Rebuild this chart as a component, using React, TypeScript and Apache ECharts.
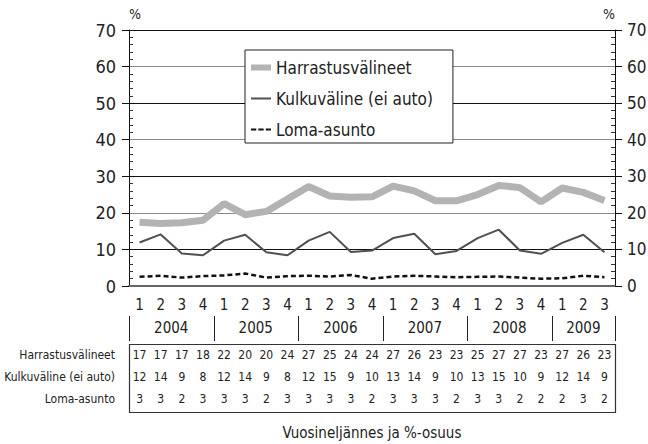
import React, { useEffect, useRef } from "react";
import * as echarts from "echarts";

const quarters = ["1","2","3","4","1","2","3","4","1","2","3","4","1","2","3","4","1","2","3","4","1","2","3"];
const years = ["2004", "2005", "2006", "2007", "2008", "2009"];
const yearQuarterCounts = [4, 4, 4, 4, 4, 3];

const seriesNames = ["Harrastusvälineet", "Kulkuväline (ei auto)", "Loma-asunto"];

const harrastus = [17.4, 17.1, 17.3, 18.0, 22.5, 19.5, 20.4, 23.8, 27.2, 24.6, 24.3, 24.4, 27.3, 26.0, 23.3, 23.3, 25.0, 27.5, 26.9, 23.0, 26.8, 25.6, 23.4];
const kulku = [11.9, 14.1, 8.9, 8.4, 12.4, 14.0, 9.2, 8.4, 12.4, 14.8, 9.3, 9.7, 13.1, 14.3, 8.7, 9.6, 13.1, 15.4, 9.7, 8.8, 11.8, 14.0, 9.2];
const loma = [2.5, 2.8, 2.3, 2.7, 2.9, 3.4, 2.3, 2.7, 2.8, 2.6, 3.0, 2.0, 2.6, 2.8, 2.6, 2.4, 2.5, 2.6, 2.3, 2.0, 2.1, 2.8, 2.4];

const tableHarrastus = ["17","17","17","18","22","20","20","24","27","25","24","24","27","26","23","23","25","27","27","23","27","26","23"];
const tableKulku = ["12","14","9","8","12","14","9","8","12","15","9","10","13","14","9","10","13","15","10","9","12","14","9"];
const tableLoma = ["3","3","2","3","3","3","2","3","3","3","3","2","3","3","3","2","3","3","2","2","2","3","2"];

const yTicks = { min: 0, max: 70, interval: 10 };

const FONT = "'Liberation Sans Narrow', 'DejaVu Sans Condensed', 'Roboto', sans-serif";

const GRID = { left: 129, right: 33, top: 30, bottom: 158 };
const ROW_OFFSETS = [69, 91, 113];

export default function App() {
  const ref = useRef<HTMLDivElement>(null);
  useEffect(() => {
    document.body.style.margin = "0";
    if (!ref.current) return;
    const chart = echarts.init(ref.current, null, { renderer: "svg" });

    const totalQ = yearQuarterCounts.reduce((a, b) => a + b, 0);
    const yearData: string[] = new Array(totalQ * 2 + 1).fill("");
    const boundaries: number[] = [0];
    let acc = 0;
    years.forEach((y, i) => {
      const c = yearQuarterCounts[i];
      yearData[acc * 2 + c] = y;
      acc += c;
      boundaries.push(acc);
    });

    const axisY = 444 - GRID.bottom;

    const rowAxis = (data: string[], offset: number) => ({
      type: "category",
      position: "bottom",
      gridIndex: 0,
      data,
      offset,
      boundaryGap: true,
      axisLine: { show: false },
      axisTick: { show: false },
      splitLine: { show: false },
      axisLabel: { interval: 0, margin: 0, verticalAlign: "middle", fontSize: 12, fontFamily: FONT, color: "#222" },
    });

    const baseY = {
      type: "value",
      min: yTicks.min,
      max: yTicks.max,
      interval: yTicks.interval,
    };

    const lineIcon = "path://M0,0H20V2H0Z";
    const thickIcon = "path://M0,0H20V6H0Z";
    const dashIcon = "path://M0,0H5V2H0Z M7,0H12V2H7Z M14,0H19V2H14Z";

    chart.setOption({
      animation: false,
      backgroundColor: "#fff",
      textStyle: { fontFamily: FONT },
      grid: { ...GRID, outerBoundsMode: "none", containLabel: false },
      legend: {
        orient: "vertical",
        left: 245,
        top: 50,
        backgroundColor: "#fff",
        borderColor: "#222",
        borderWidth: 1,
        padding: [9, 20, 5, 6],
        itemGap: 14,
        itemWidth: 20,
        itemHeight: 16,
        textStyle: { fontSize: 17, fontFamily: FONT, color: "#222" },
        data: [
          { name: seriesNames[0], icon: thickIcon },
          { name: seriesNames[1], icon: lineIcon },
          { name: seriesNames[2], icon: dashIcon },
        ],
      },
      xAxis: [
        {
          type: "category",
          data: quarters,
          boundaryGap: true,
          axisLine: { show: true, lineStyle: { color: "#666", width: 2 } },
          axisTick: { show: false },
          splitLine: { show: false },
          axisLabel: { interval: 0, margin: 11, fontSize: 15, fontFamily: FONT, color: "#222" },
        },
        {
          type: "category",
          position: "bottom",
          data: yearData,
          boundaryGap: false,
          offset: 30,
          axisLine: { show: false },
          splitLine: { show: false },
          axisTick: { show: false },
          axisLabel: { interval: 0, margin: 4, fontSize: 15, fontFamily: FONT, color: "#222" },
        },
        rowAxis(tableHarrastus, ROW_OFFSETS[0]),
        rowAxis(tableKulku, ROW_OFFSETS[1]),
        rowAxis(tableLoma, ROW_OFFSETS[2]),
      ],
      yAxis: [
        {
          ...baseY,
          position: "left",
          name: "%",
          nameLocation: "end",
          nameGap: 9,
          nameTextStyle: { fontSize: 14, fontFamily: FONT, color: "#222", align: "left" },
          axisLine: { show: true, lineStyle: { color: "#111", width: 1 } },
          axisTick: { show: true, length: 7, lineStyle: { color: "#111" } },
          axisLabel: { margin: 13, fontSize: 18, fontFamily: FONT, color: "#222" },
          splitLine: { show: true, lineStyle: { color: ["#8a8a8a", "#111"], width: 1.2 } },
        },
        {
          ...baseY,
          position: "left",
          axisLine: { show: false },
          axisTick: { show: false, inside: true },
          axisLabel: { show: false },
          minorTick: { show: true, splitNumber: 5, length: 4, lineStyle: { color: "#333" } },
          splitLine: { show: false },
        },
        {
          ...baseY,
          position: "right",
          name: "%",
          nameLocation: "end",
          nameGap: 9,
          nameTextStyle: { fontSize: 14, fontFamily: FONT, color: "#222", align: "right" },
          axisLine: { show: true, lineStyle: { color: "#111", width: 1 } },
          axisTick: { show: true, length: 7, lineStyle: { color: "#111" } },
          axisLabel: { margin: 12, fontSize: 17, fontFamily: FONT, color: "#222" },
          splitLine: { show: false },
        },
        {
          ...baseY,
          position: "right",
          axisLine: { show: false },
          axisTick: { show: false, inside: true },
          axisLabel: { show: false },
          minorTick: { show: true, splitNumber: 5, length: 4, lineStyle: { color: "#333" } },
          splitLine: { show: false },
        },
      ],
      series: [
        {
          name: seriesNames[0],
          type: "line",
          data: harrastus,
          symbol: "none",
          lineStyle: { color: "#b3b3b3", width: 7 },
          itemStyle: { color: "#b3b3b3" },
          z: 3,
        },
        {
          name: seriesNames[1],
          type: "line",
          data: kulku,
          symbol: "none",
          lineStyle: { color: "#505050", width: 2 },
          itemStyle: { color: "#505050" },
          z: 4,
        },
        {
          name: seriesNames[2],
          type: "line",
          data: loma,
          symbol: "none",
          lineStyle: { color: "#111", width: 2.5, type: [5, 3] },
          itemStyle: { color: "#111" },
          z: 5,
        },
      ],
    });

    // year separators, positioned through the category axis scale
    const c0 = chart.convertToPixel({ xAxisIndex: 0 }, 0) as number;
    const c1 = chart.convertToPixel({ xAxisIndex: 0 }, 1) as number;
    const band = c1 - c0;
    const sepX = (b: number) => Math.round(c0 + (b - 0.5) * band) + 0.5;

    chart.setOption({
      graphic: [
        ...boundaries.map((b) => ({
          type: "line",
          shape: { x1: sepX(b), y1: axisY + 30, x2: sepX(b), y2: axisY + 55 },
          style: { stroke: "#222", lineWidth: 1 },
          silent: true,
        })),
        {
          type: "rect",
          shape: { x: sepX(0), y: axisY + 58.5, width: sepX(totalQ) - sepX(0), height: 68 },
          style: { fill: "none", stroke: "#333", lineWidth: 1.2 },
          silent: true,
        },
        ...seriesNames.map((n, i) => ({
          type: "text",
          x: GRID.left - 14,
          y: axisY + ROW_OFFSETS[i],
          style: {
            text: n,
            align: "right",
            verticalAlign: "middle",
            font: `12px ${FONT}`,
            fill: "#222",
          },
        })),
        {
          type: "text",
          x: 372,
          y: 433,
          style: {
            text: "Vuosineljännes ja %-osuus",
            align: "center",
            verticalAlign: "middle",
            font: `15px ${FONT}`,
            fill: "#222",
          },
        },
      ],
    });
    return () => chart.dispose();
  }, []);
  return <div ref={ref} style={{ width: 648, height: 444 }} />;
}
